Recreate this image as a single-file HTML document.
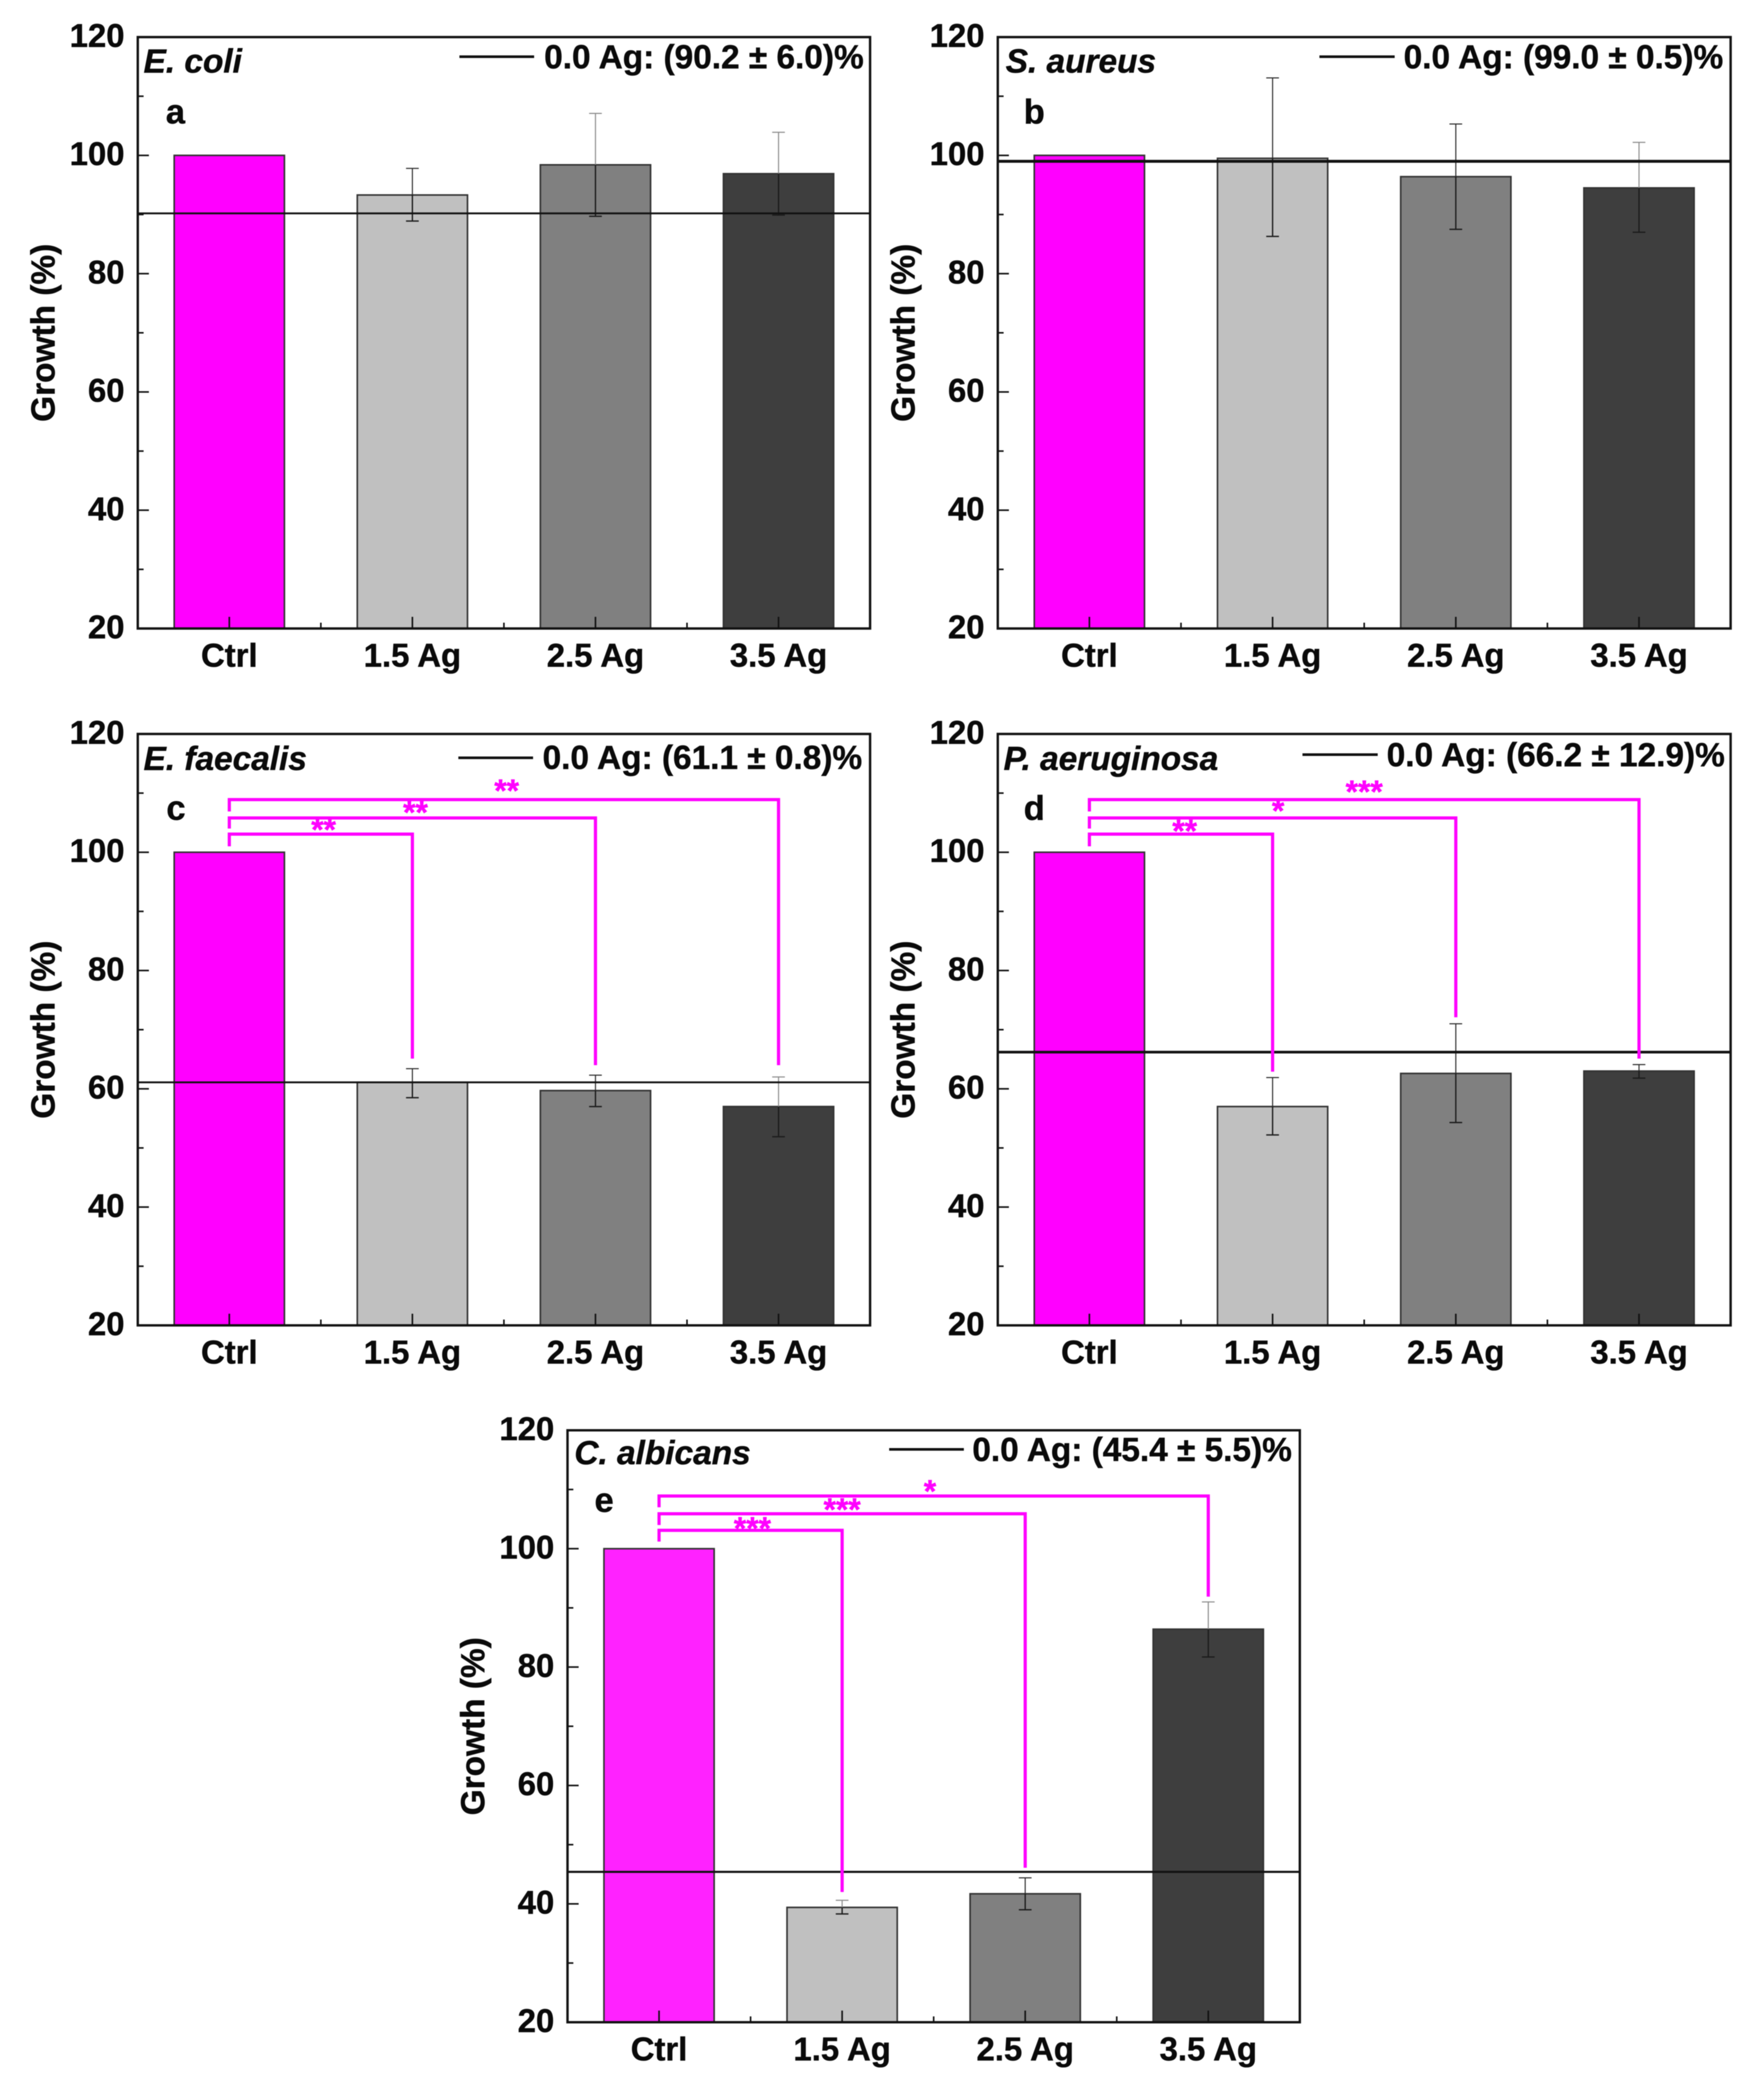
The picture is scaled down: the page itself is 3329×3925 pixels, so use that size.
<!DOCTYPE html>
<html lang="en">
<head>
<meta charset="utf-8">
<title>Growth of microorganisms by Ag content</title>
<style>
html,body{margin:0;padding:0;background:#fff;}
svg{display:block;filter:blur(0.7px);}
text{font-family:"Liberation Sans",Arial,sans-serif;font-weight:bold;fill:#0a0a0a;stroke:#0a0a0a;stroke-width:0.8px;}
</style>
</head>
<body>
<svg id="figure" xmlns="http://www.w3.org/2000/svg" width="3329" height="3925" viewBox="0 0 3329 3925"></svg>
<script>
const categories = ['Ctrl', '1.5 Ag', '2.5 Ag', '3.5 Ag'];
const yTickLabels = [20, 40, 60, 80, 100, 120];
const yMinorTicks = [30, 50, 70, 90, 110];
const xMinorTicks = [0.5, 1.5, 2.5];

const ecoliValues = [100, 93.3, 98.4, 96.9];
const ecoliUpper = [null, 97.8, 107.1, 103.9];
const ecoliLower = [null, 88.9, 89.7, 89.9];
const ecoliBaseline = 90.2;

const aureusValues = [100, 99.5, 96.4, 94.5];
const aureusUpper = [null, 113.1, 105.3, 102.2];
const aureusLower = [null, 86.3, 87.5, 87];
const aureusBaseline = 99;

const faecalisValues = [100, 61.1, 59.7, 57];
const faecalisUpper = [null, 63.4, 62.3, 62];
const faecalisLower = [null, 58.5, 57, 51.9];
const faecalisBaseline = 61.1;
const faecalisBracketTops = [103.06, 105.8, 108.9];
const faecalisBracketStubs = [101, 104, 106.9];
const faecalisBracketEnds = [65.1, 64, 64];
const faecalisStars = ['**', '**', '**'];
const faecalisStarLevels = [104.4, 107.3, 111];
const faecalisStarSpots = [0.515, 1.017, 1.515];

const aeruginosaValues = [100, 57, 62.6, 63];
const aeruginosaUpper = [null, 61.9, 71, 64.1];
const aeruginosaLower = [null, 52.2, 54.3, 61.8];
const aeruginosaBaseline = 66.2;
const aeruginosaBracketTops = [103.06, 105.8, 108.9];
const aeruginosaBracketStubs = [101, 104, 106.9];
const aeruginosaBracketEnds = [62.9, 72.1, 65.1];
const aeruginosaStars = ['**', '*', '***'];
const aeruginosaStarLevels = [104.2, 107.6, 110.8];
const aeruginosaStarSpots = [0.52, 1.03, 1.5];

const albicansValues = [100, 39.4, 41.7, 86.4];
const albicansUpper = [null, 40.6, 44.4, 91];
const albicansLower = [null, 38.3, 39, 81.7];
const albicansBaseline = 45.4;
const albicansBracketTops = [103.1, 105.9, 108.9];
const albicansBracketStubs = [101.2, 104, 107];
const albicansBracketEnds = [42, 46.1, 91.9];
const albicansStars = ['***', '***', '*'];
const albicansStarLevels = [104, 107.2, 110.3];
const albicansStarSpots = [0.51, 1.0, 1.48];

const panels = [
  {key: 'e-coli', species: 'E. coli', letter: 'a', legend: '0.0 Ag: (90.2 \u00b1 6.0)%',
   values: ecoliValues, upper: ecoliUpper, lower: ecoliLower, baseline: ecoliBaseline,
   fadedCaps: [false, false, true, true],
   box: {l: 260, r: 1642, t: 70, b: 1186}, lineW: 3.5,
   pos: {title: [271, 137], letter: [313, 233], legLine: [867, 1008, 107], legText: [1027, 129]}},
  {key: 's-aureus', species: 'S. aureus', letter: 'b', legend: '0.0 Ag: (99.0 \u00b1 0.5)%',
   values: aureusValues, upper: aureusUpper, lower: aureusLower, baseline: aureusBaseline,
   fadedCaps: [false, false, false, true],
   box: {l: 1883, r: 3266, t: 70, b: 1186}, lineW: 5.5,
   pos: {title: [1898, 137], letter: [1932, 233], legLine: [2490, 2632, 107], legText: [2649, 129]}},
  {key: 'e-faecalis', species: 'E. faecalis', letter: 'c', legend: '0.0 Ag: (61.1 \u00b1 0.8)%',
   values: faecalisValues, upper: faecalisUpper, lower: faecalisLower, baseline: faecalisBaseline,
   fadedCaps: [false, false, false, true],
   tops: faecalisBracketTops, stubs: faecalisBracketStubs, ends: faecalisBracketEnds,
   stars: faecalisStars, starLevels: faecalisStarLevels, starSpots: faecalisStarSpots,
   box: {l: 260, r: 1642, t: 1385, b: 2501}, lineW: 3.5,
   pos: {title: [271, 1453], letter: [314, 1547], legLine: [865, 1006, 1430], legText: [1024, 1451]}},
  {key: 'p-aeruginosa', species: 'P. aeruginosa', letter: 'd', legend: '0.0 Ag: (66.2 \u00b1 12.9)%',
   values: aeruginosaValues, upper: aeruginosaUpper, lower: aeruginosaLower, baseline: aeruginosaBaseline,
   fadedCaps: [false, false, false, false],
   tops: aeruginosaBracketTops, stubs: aeruginosaBracketStubs, ends: aeruginosaBracketEnds,
   stars: aeruginosaStars, starLevels: aeruginosaStarLevels, starSpots: aeruginosaStarSpots,
   box: {l: 1883, r: 3266, t: 1385, b: 2501}, lineW: 5,
   pos: {title: [1894, 1453], letter: [1932, 1547], legLine: [2458, 2600, 1424], legText: [2617, 1446]}},
  {key: 'c-albicans', species: 'C. albicans', letter: 'e', legend: '0.0 Ag: (45.4 \u00b1 5.5)%',
   values: albicansValues, upper: albicansUpper, lower: albicansLower, baseline: albicansBaseline,
   fadedCaps: [false, true, false, true],
   tops: albicansBracketTops, stubs: albicansBracketStubs, ends: albicansBracketEnds,
   stars: albicansStars, starLevels: albicansStarLevels, starSpots: albicansStarSpots,
   box: {l: 1071, r: 2453, t: 2699, b: 3816}, lineW: 4, ctrlFill: '#ff22ff',
   pos: {title: [1084, 2763], letter: [1122, 2853], legLine: [1678, 1819, 2735], legText: [1835, 2757]}}
];

const barFills = ['#ff00ff', '#c0c0c0', '#808080', '#3e3e3e'];
const NS = 'http://www.w3.org/2000/svg';
const figure = document.getElementById('figure');

function add(parent, tag, attrs, content) {
  const node = document.createElementNS(NS, tag);
  for (const k in attrs) node.setAttribute(k, attrs[k]);
  if (content !== undefined) node.textContent = content;
  parent.appendChild(node);
  return node;
}

function drawPanel(p) {
  const box = p.box;
  const yScale = v => box.b - (v - 20) / 100 * (box.b - box.t);
  const xScale = i => box.l + (i + 0.5) / 4 * (box.r - box.l);
  const barW = 208;

  const g = add(figure, 'g', {});
  
  

  // Bars
  p.values.forEach((v, i) => {
    const fill = (i === 0 && p.ctrlFill) ? p.ctrlFill : barFills[i];
    const bar = add(g, 'rect', {x: xScale(i) - barW / 2, y: yScale(v), width: barW, height: box.b - yScale(v), fill: fill, stroke: '#333', 'stroke-width': 3});
    
    
  });

  // Error bars
  p.values.forEach((v, i) => {
    if (p.upper[i] === null) return;
    const cx = xScale(i);
    const yv = yScale(v);
    const yu = yScale(p.upper[i]);
    const yl = yScale(p.lower[i]);
    const upperTone = p.fadedCaps[i] ? '#8a8a8a' : '#2a2a2a';
    const errUp = add(g, 'path', {d: 'M' + cx + ' ' + yu + 'V' + yv + 'M' + (cx - 12) + ' ' + yu + 'H' + (cx + 12), fill: 'none', stroke: upperTone, 'stroke-width': 2});
    
    
    const errDown = add(g, 'path', {d: 'M' + cx + ' ' + yv + 'V' + yl + 'M' + (cx - 12) + ' ' + yl + 'H' + (cx + 12), fill: 'none', stroke: '#1c1c1c', 'stroke-width': 2.5});
    
    
  });

  // Baseline reference line
  const by = yScale(p.baseline);
  const refLine = add(g, 'line', {x1: box.l, x2: box.r, y1: by, y2: by, stroke: '#111', 'stroke-width': p.lineW});
  
  

  // Significance brackets
  if (p.tops) {
    p.tops.forEach((top, j) => {
      const x0 = xScale(0);
      const x1 = xScale(j + 1);
      const bracket = add(g, 'path', {d: 'M' + x0 + ' ' + yScale(p.stubs[j]) + 'V' + yScale(top) + 'H' + x1 + 'V' + yScale(p.ends[j]), fill: 'none', stroke: '#ff00ff', 'stroke-width': 6});
      
      
      const star = add(g, 'text', {x: xScale(p.starSpots[j]), y: yScale(p.starLevels[j]) + 27, 'text-anchor': 'middle', 'font-size': 60, style: 'fill:#ff00ff;stroke:#ff00ff'}, p.stars[j]);
      
      
    });
  }

  // Frame
  const frame = add(g, 'rect', {x: box.l, y: box.t, width: box.r - box.l, height: box.b - box.t, fill: 'none', stroke: '#111', 'stroke-width': 4.5});
  
  

  // Y axis ticks and labels
  yTickLabels.forEach(t => {
    const y = yScale(t);
    const tick = add(g, 'line', {x1: box.l, x2: box.l + 21, y1: y, y2: y, stroke: '#111', 'stroke-width': 3});
    
    
    const label = add(g, 'text', {x: box.l - 25, y: y + 18.5, 'text-anchor': 'end', 'font-size': 62}, String(t));
    
    
  });
  yMinorTicks.forEach(t => {
    const tick = add(g, 'line', {x1: box.l, x2: box.l + 11, y1: yScale(t), y2: yScale(t), stroke: '#111', 'stroke-width': 3});
    
    
  });

  // X axis ticks and labels
  categories.forEach((c, i) => {
    const x = xScale(i);
    const tick = add(g, 'line', {x1: x, x2: x, y1: box.b, y2: box.b - 22, stroke: '#111', 'stroke-width': 3});
    
    
    const label = add(g, 'text', {x: x, y: box.b + 72, 'text-anchor': 'middle', 'font-size': 62}, c);
    
    
  });
  xMinorTicks.forEach(m => {
    const tick = add(g, 'line', {x1: xScale(m), x2: xScale(m), y1: box.b, y2: box.b - 11, stroke: '#111', 'stroke-width': 3});
    
    
  });

  // Y axis title
  const yMid = (box.t + box.b) / 2;
  const yTitle = add(g, 'text', {x: 0, y: 0, transform: 'translate(' + (box.l - 157) + ',' + yMid + ') rotate(-90)', 'text-anchor': 'middle', 'font-size': 63}, 'Growth (%)');
  
  

  // Species title
  const title = add(g, 'text', {x: p.pos.title[0], y: p.pos.title[1], 'font-size': 63, 'font-style': 'italic'}, p.species);
  
  

  // Panel letter
  const letter = add(g, 'text', {x: p.pos.letter[0], y: p.pos.letter[1], 'font-size': 65}, p.letter);
  
  

  // Legend
  const legLine = add(g, 'line', {x1: p.pos.legLine[0], x2: p.pos.legLine[1], y1: p.pos.legLine[2], y2: p.pos.legLine[2], stroke: '#111', 'stroke-width': 5});
  
  
  const legText = add(g, 'text', {x: p.pos.legText[0], y: p.pos.legText[1], 'font-size': 63}, p.legend);
  
  
}

panels.forEach(drawPanel);
</script>
</body>
</html>
